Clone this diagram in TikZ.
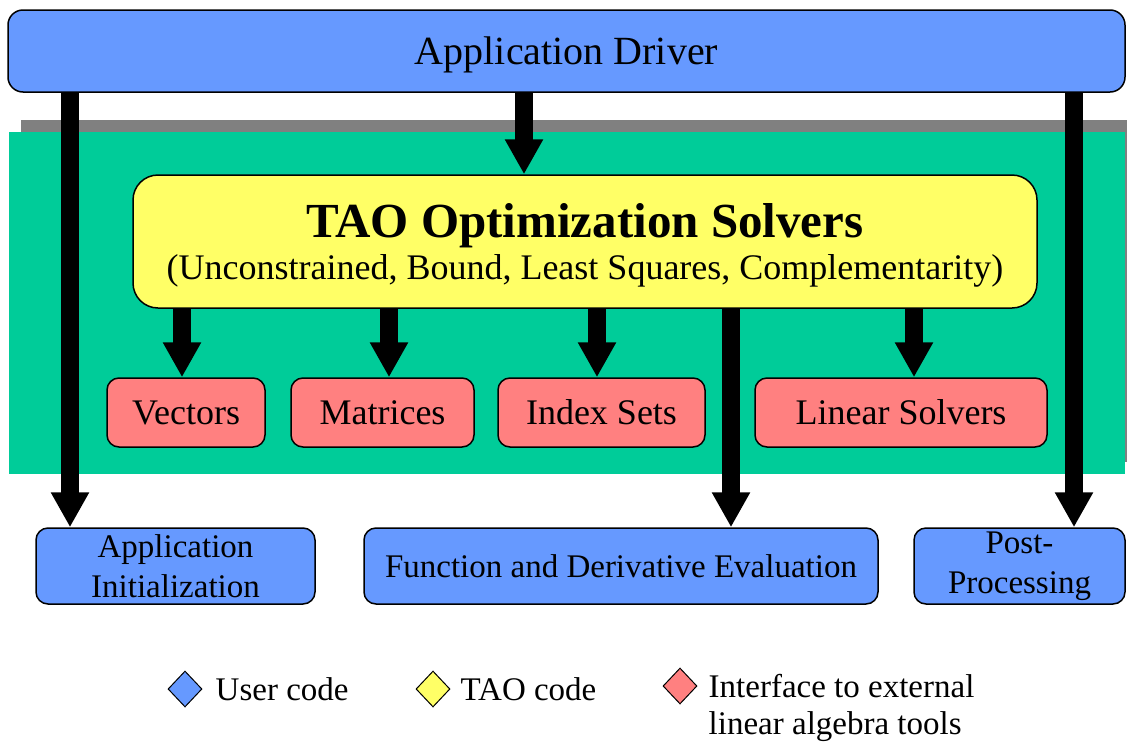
\documentclass[tikz,border=0pt]{standalone}
\usepackage{fontspec}
\setmainfont{Liberation Serif}
\usepackage{tikz}
\usetikzlibrary{positioning,arrows.meta,shapes.geometric}
\definecolor{UserBlue}{rgb}{0.4, 0.6, 1.0}
\definecolor{TaoYellow}{rgb}{1.0, 1.0, 0.4}
\definecolor{ExtPink}{rgb}{1.0, 0.5, 0.5}
\definecolor{LayerGreen}{rgb}{0.0, 0.8, 0.6}
\definecolor{LayerShadow}{rgb}{0.5, 0.5, 0.5}
\newcommand{\fsz}[1]{\fontsize{#1}{1.12\dimexpr #1pt\relax}\selectfont}
\tikzset{
	box/.style={draw=black, line width=1.5pt, inner sep=0pt, align=center},
	userbox/.style={box, fill=UserBlue, rounded corners=12pt},
	extbox/.style={box, fill=ExtPink, rounded corners=12pt, minimum height=69pt, font=\fsz{36}},
	bigarrow/.style={line width=18pt, -{Triangle[width=36pt,length=35pt]}},
	legdiamond/.style={diamond, draw=black, line width=1pt, inner sep=0pt, minimum width=34pt, minimum height=36pt},
	legtext/.style={font=\fsz{33}, inner sep=0pt, align=left}
}

\begin{document}
\begin{tikzpicture}[x=1pt, y=-1pt]
	\useasboundingbox (0,0) rectangle (1127,742);
	\fill[LayerShadow] (21,120) rectangle (1127,462);
	\fill[LayerGreen] (9,132) rectangle (1125,474);

	\coordinate (xinit) at (70,0);
	\coordinate (xtao) at (524,0);
	\coordinate (xpost) at (1074,0);
	\coordinate (xvec) at (182,0);
	\coordinate (xmat) at (389,0);
	\coordinate (xidx) at (597,0);
	\coordinate (xlin) at (914,0);
	\coordinate (xfunc) at (731,0);

	\node[userbox, rounded corners=15pt, minimum width=1117pt, minimum height=82pt, font=\fsz{40}, text height=36pt, text depth=9pt] (driver) at (566.5,51) {Application Driver};
	\node[box, fill=TaoYellow, rounded corners=25pt, minimum width=904pt, minimum height=133pt] (tao) at (585,241.5)
		{\rule{0pt}{42pt}{\fsz{49}\bfseries TAO Optimization Solvers}\\[6pt]{\fsz{36}(Unconstrained, Bound, Least Squares, Complementarity)}};
	\node[extbox, minimum width=158pt] (vec) at (186,412.5) {Vectors};
	\node[extbox, minimum width=183pt] (mat) at (382.5,412.5) {Matrices};
	\node[extbox, minimum width=207pt] (idx) at (601.5,412.5) {Index Sets};
	\node[extbox, minimum width=292pt] (lin) at (901,412.5) {Linear Solvers};
	\node[userbox, minimum width=279pt, minimum height=76pt, font=\fsz{33}] (init) at (175.5,566) {Application\\[3pt]Initialization};
	\node[userbox, minimum width=514pt, minimum height=76pt, font=\fsz{33}] (func) at (621,566) {Function and Derivative Evaluation};
	\node[userbox, minimum width=211pt, minimum height=76pt, font=\fsz{33}] (post) at (1019.5,566) {Post-\\[3pt]Processing};

	\draw[bigarrow] (driver.south -| xinit) -- (init.north -| xinit);
	\draw[bigarrow] (driver.south -| xtao) -- (tao.north -| xtao);
	\draw[bigarrow] (driver.south -| xpost) -- (post.north -| xpost);
	\draw[bigarrow] (tao.south -| xvec) -- (vec.north -| xvec);
	\draw[bigarrow] (tao.south -| xmat) -- (mat.north -| xmat);
	\draw[bigarrow] (tao.south -| xidx) -- (idx.north -| xidx);
	\draw[bigarrow] (tao.south -| xlin) -- (lin.north -| xlin);
	\draw[bigarrow] (tao.south -| xfunc) -- (func.north -| xfunc);

	\node[legdiamond, fill=UserBlue] (leguser) at (185,689) {};
	\node[legtext, right=13pt of leguser] (legusertext) {User code};
	\node[legdiamond, fill=TaoYellow] (legtao) at (433,689) {};
	\node[legtext, right=10pt of legtao] (legtaotext) {TAO code};
	\node[legdiamond, fill=ExtPink] (legext) at (680,686) {};
	\node[legtext, right=11pt of legext, anchor=north west, yshift=12pt] (legexttext) {Interface to external\\linear algebra tools};
\end{tikzpicture}
\end{document}
